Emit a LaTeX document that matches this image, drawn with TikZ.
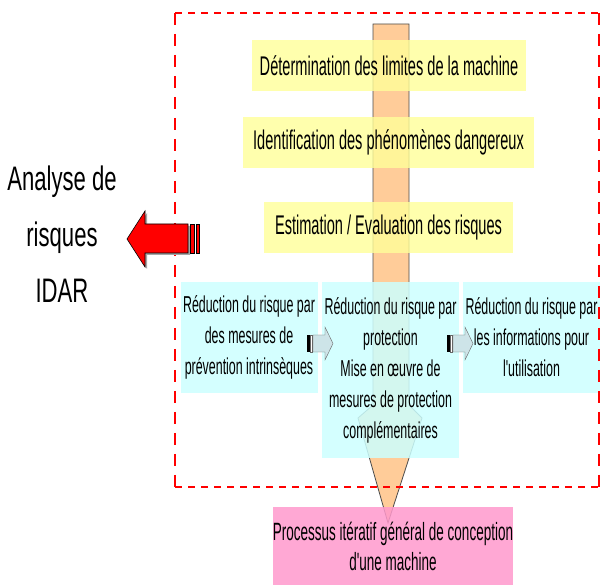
\documentclass[tikz,border=0pt]{standalone}
\usepackage{fontspec}
\setmainfont{Liberation Sans}
\newfontfamily\stepfont{Liberation Sans}[FakeStretch=0.54]
\newfontfamily\titlefont{Liberation Sans}[FakeStretch=0.65]
\definecolor{pencil}{RGB}{255,204,153}
\definecolor{paleyellow}{RGB}{255,255,153}
\definecolor{palecyan}{RGB}{204,255,255}
\definecolor{processpink}{RGB}{255,153,204}
\definecolor{arrowblue}{RGB}{205,228,232}

\tikzset{
  stepbox/.style={fill=paleyellow, fill opacity=0.8, text opacity=1, inner sep=0pt,
    minimum height=51pt, font={\stepfont\fontsize{27}{31}\selectfont}},
  riskbox/.style={fill=palecyan, fill opacity=0.85, text opacity=1, inner sep=0pt,
    minimum width=137pt, align=center, font={\stepfont\fontsize{23}{31}\selectfont}},
  framex/.style={red, line width=2.5pt, dash pattern=on 7pt off 6pt},
  framey/.style={red, line width=1.8pt, dash pattern=on 12pt off 9pt}
}

\begin{document}
\begin{tikzpicture}[x=1pt,y=-1pt]
\useasboundingbox (0,0) rectangle (603,585);

% pencil
\draw[draw=black!70, fill=pencil, line width=0.8pt] (373,24) -- (409,24) -- (409,405)
  -- (422,418) -- (388,523) -- (358,418) -- (373,405) -- cycle;

% steps of the risk assessment
\node[stepbox, minimum width=274pt] (limits) at (389,65.5) {Détermination des limites de la machine};
\node[stepbox, minimum width=291pt] (hazards) at (388.5,142.5) {Identification des phénomènes dangereux};
\node[stepbox, minimum width=249pt] (estimate) at (388.5,227.5) {Estimation / Evaluation des risques};

% risk reduction
\node[riskbox, minimum height=111pt] (design) at (249,337.5)
  {Réduction du risque par\\des mesures de\\prévention intrinsèques};
\node[riskbox, minimum height=176pt] (guard) at (390.5,370)
  {Réduction du risque par\\protection\\Mise en œuvre de\\mesures de protection\\complémentaires};
\node[riskbox, minimum height=111pt] (usage) at (531.5,337.5)
  {Réduction du risque par\\les informations pour\\l'utilisation};

% design process
\node[fill=processpink, fill opacity=0.85, text opacity=1, inner sep=0pt, minimum width=240pt,
  minimum height=78pt, align=center, font={\stepfont\fontsize{25}{30}\selectfont}] (process) at (393,546)
  {Processus itératif général de conception\\d'une machine};

% dashed frame
\draw[framex] (175,13) -- (599,13);
\draw[framex] (175,487) -- (599,487);
\draw[framey] (175,13) -- (175,487);
\draw[framey] (599,13) -- (599,487);

% small arrows
\foreach \ax in {307,447} {
  \fill[black] (\ax,335) rectangle ++(2.5,17);
  \draw[draw=black!60, fill=white] (\ax+3.5,335) rectangle ++(2,17);
  \draw[draw=black!60, fill=arrowblue] (\ax+6,335) -- (\ax+18,335) -- (\ax+18,327)
    -- (\ax+26,343.5) -- (\ax+18,360) -- (\ax+18,352) -- (\ax+6,352) -- cycle;
}

% big red arrow
\fill[black!35] (129,241) -- (147,213) -- (147,226) -- (190,226) -- (190,255) -- (147,255) -- (147,269) -- cycle;
\draw[fill=red, draw=black, line width=0.6pt] (127,239) -- (145,211) -- (145,224) -- (188,224)
  -- (188,253) -- (145,253) -- (145,267) -- cycle;
\draw[fill=red, draw=black, line width=0.6pt] (190,224) rectangle (194,253);
\draw[fill=red, draw=black, line width=0.6pt] (196,224) rectangle (199,253);

\node[align=center, inner sep=0pt, font={\titlefont\fontsize{34}{56}\selectfont}] (idar) at (62,234)
  {Analyse de\\risques\\IDAR};

\end{tikzpicture}
\end{document}
